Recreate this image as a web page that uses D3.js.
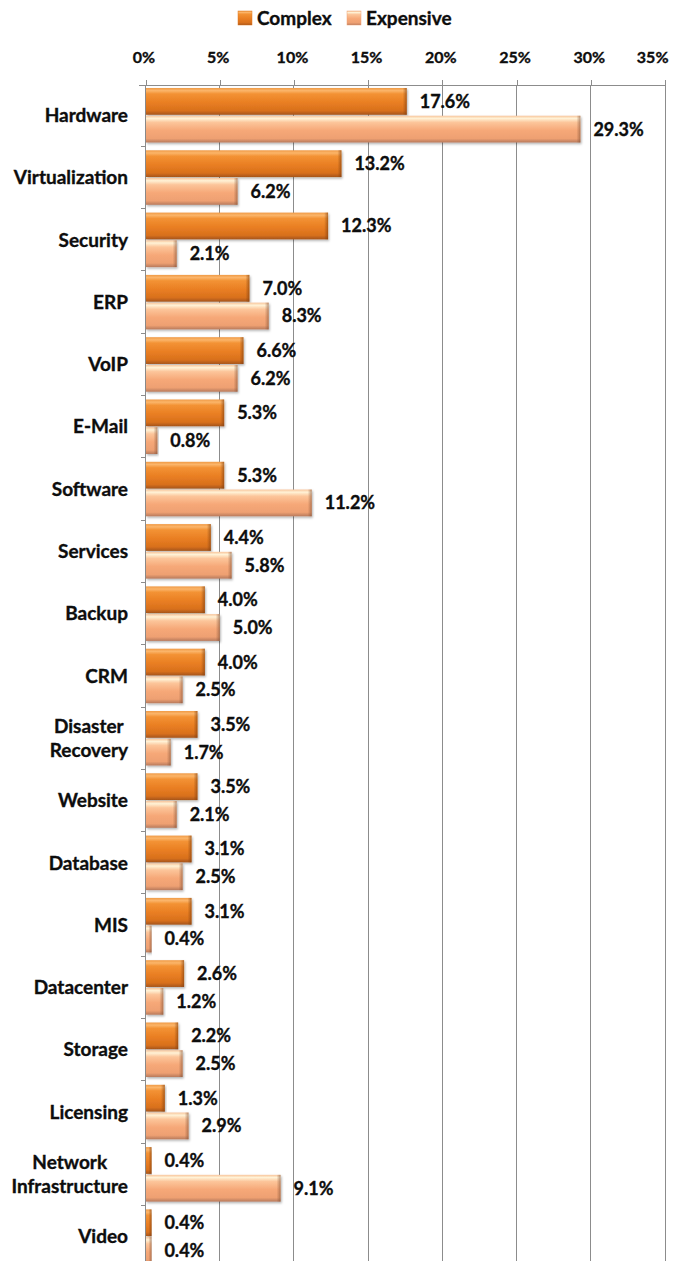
<!DOCTYPE html>
<html>
<head>
<meta charset="utf-8">
<script src="https://cdn.jsdelivr.net/npm/d3@7"></script>
<style>
  html, body { margin: 0; padding: 0; background: #ffffff; }
  svg { display: block; }
  text { font-family: Lato, "Open Sans", sans-serif; font-weight: 700; fill: #0d0d0d; stroke: #0d0d0d; stroke-width: 0.35px; }
</style>
</head>
<body>
<svg id="chart" width="682" height="1261"></svg>
<script>
// Categories, top to bottom
const categories = [
  "Hardware", "Virtualization", "Security", "ERP", "VoIP", "E-Mail",
  "Software", "Services", "Backup", "CRM", "Disaster Recovery", "Website",
  "Database", "MIS", "Datacenter", "Storage", "Licensing",
  "Network Infrastructure", "Video"
];

// Share of answers (%) per series
const complexValues = [
  17.6, 13.2, 12.3, 7.0, 6.6, 5.3, 5.3, 4.4, 4.0, 4.0,
  3.5, 3.5, 3.1, 3.1, 2.6, 2.2, 1.3, 0.4, 0.4
];
const expensiveValues = [
  29.3, 6.2, 2.1, 8.3, 6.2, 0.8, 11.2, 5.8, 5.0, 2.5,
  1.7, 2.1, 2.5, 0.4, 1.2, 2.5, 2.9, 9.1, 0.4
];

const seriesNames = ["Complex", "Expensive"];
const xTicks = [0, 5, 10, 15, 20, 25, 30, 35];

const series = [
  { name: seriesNames[0], values: complexValues, grad: "gradComplex", end: "endComplex", swatch: "#e07a22" },
  { name: seriesNames[1], values: expensiveValues, grad: "gradExpensive", end: "endExpensive", swatch: "#f0a276" }
];

const svg = d3.select("#chart");
const W = 682, H = 1261;
const plotLeft = 145.5, plotRight = 665, plotTop = 85;
const band = 62.3;

const x = d3.scaleLinear().domain([0, 35]).range([plotLeft, plotRight]);
const y = d3.scaleBand().domain(categories).range([plotTop - 1, plotTop - 1 + band * categories.length]).padding(0);
const sub = d3.scaleBand().domain(seriesNames).range([4, y.bandwidth() - 3.8]).paddingInner(0.035);

// Gradients for the bevelled bars
const defs = svg.append("defs");
function vGrad(id, stops) {
  const g = defs.append("linearGradient").attr("id", id)
    .attr("x1", 0).attr("y1", 0).attr("x2", 0).attr("y2", 1);
  stops.forEach(s => g.append("stop").attr("offset", s[0]).attr("stop-color", s[1]));
}
function hGrad(id, stops) {
  const g = defs.append("linearGradient").attr("id", id)
    .attr("x1", 0).attr("y1", 0).attr("x2", 1).attr("y2", 0);
  stops.forEach(s => g.append("stop").attr("offset", s[0]).attr("stop-color", s[1]).attr("stop-opacity", s[2]));
}
vGrad("gradComplex", [
  [0, "#f09a45"], [0.1, "#fbb56a"], [0.22, "#f39234"], [0.55, "#e97e22"],
  [0.85, "#d8701d"], [1, "#a55419"]
]);
vGrad("gradExpensive", [
  [0, "#f8c49a"], [0.1, "#fff2d6"], [0.25, "#fcc59a"], [0.55, "#f6a878"],
  [0.85, "#eea072"], [1, "#b87a5c"]
]);
hGrad("endComplex", [[0, "#8a4310", 0], [1, "#7a3a0c", 0.6]]);
hGrad("endExpensive", [[0, "#8a5438", 0], [1, "#7a4a30", 0.55]]);

const shadow = defs.append("filter").attr("id", "barShadow")
  .attr("x", "-5%").attr("y", "-20%").attr("width", "115%").attr("height", "160%");
shadow.append("feDropShadow").attr("dx", 1).attr("dy", 1.5).attr("stdDeviation", 1.2)
  .attr("flood-color", "#000").attr("flood-opacity", 0.3);

// Vertical gridlines
svg.append("g").selectAll("line").data(xTicks.slice(1)).join("line")
  .attr("x1", d => x(d)).attr("x2", d => x(d))
  .attr("y1", plotTop).attr("y2", H)
  .attr("stroke", "#8c8c8c").attr("stroke-width", 1).attr("shape-rendering", "crispEdges");

// Top value axis
const xAxis = svg.append("g").attr("transform", `translate(0,${plotTop})`)
  .call(d3.axisTop(x).tickValues(xTicks).tickSize(5).tickSizeOuter(0).tickFormat(d => d + "%"));
xAxis.select(".domain").attr("stroke", "#8c8c8c").attr("shape-rendering", "crispEdges")
  .attr("d", `M${plotLeft - 7},0H${plotRight}`);
xAxis.selectAll(".tick line").attr("stroke", "#8c8c8c").attr("shape-rendering", "crispEdges");
xAxis.attr("font-family", null).attr("font-size", null);
const lastTick = xTicks[xTicks.length - 1];
xAxis.selectAll(".tick text").attr("y", -28).attr("dy", "0.35em")
  .style("font-size", "16px").attr("fill", "#0d0d0d")
  .attr("x", d => d === lastTick ? 668 - x(d) : -2)
  .attr("text-anchor", d => d === lastTick ? "end" : "middle");

// Category axis line and ticks between categories
svg.append("line").attr("x1", plotLeft).attr("x2", plotLeft).attr("y1", plotTop).attr("y2", H)
  .attr("stroke", "#8c8c8c").attr("shape-rendering", "crispEdges");
svg.append("g").selectAll("line").data(categories.slice(1)).join("line")
  .attr("x1", plotLeft - 5).attr("x2", plotLeft)
  .attr("y1", d => y(d)).attr("y2", d => y(d))
  .attr("stroke", "#8c8c8c").attr("shape-rendering", "crispEdges");

// Category labels (two-word names wrap onto two centred lines)
const labelRight = 128;
const lineH = 24;
const catG = svg.append("g");
categories.forEach(c => {
  const words = c.split(" ");
  const cy = y(c) + y.bandwidth() / 2;
  const t = catG.append("text").style("font-size", "19px");
  if (words.length === 1) {
    t.attr("x", labelRight).attr("y", cy).attr("dy", "0.36em").attr("text-anchor", "end").text(c);
  } else {
    t.attr("text-anchor", "middle");
    const spans = words.map((w, i) => t.append("tspan").attr("y", cy + (i - (words.length - 1) / 2) * lineH)
      .attr("dy", "0.36em").text(w));
    const widest = d3.max(spans, s => s.node().getComputedTextLength());
    spans.forEach(s => s.attr("x", labelRight - widest / 2));
  }
});

// Bars
const barsG = svg.append("g");
const valG = svg.append("g");
series.forEach(s => {
  const g = barsG.append("g");
  categories.forEach((c, i) => {
    const v = s.values[i];
    const by = y(c) + sub(s.name);
    const bw = x(v) - x(0);
    const bh = sub.bandwidth();
    const bar = g.append("g").attr("filter", "url(#barShadow)");
    bar.append("rect").attr("x", x(0) + 0.5).attr("y", by).attr("width", Math.max(bw - 0.5, 0)).attr("height", bh)
      .attr("fill", `url(#${s.grad})`);
    const ew = Math.min(4, bw * 0.5);
    bar.append("rect").attr("x", x(v) - ew).attr("y", by).attr("width", ew).attr("height", bh)
      .attr("fill", `url(#${s.end})`);
    // value label
    valG.append("text").attr("x", x(v) + 13).attr("y", by + bh / 2).attr("dy", "0.36em")
      .style("font-size", "18px").text(v.toFixed(1) + "%");
  });
});

// Legend
const legend = svg.append("g");
const legendItems = [
  { s: series[0], x: 238 },
  { s: series[1], x: 347 }
];
legendItems.forEach(it => {
  legend.append("rect").attr("x", it.x).attr("y", 11).attr("width", 14).attr("height", 14)
    .attr("fill", `url(#${it.s.grad})`).attr("stroke", it.s.swatch).attr("stroke-width", 0.5);
  legend.append("text").attr("x", it.x + 19).attr("y", 18).attr("dy", "0.36em")
    .style("font-size", "19px").text(it.s.name);
});
</script>
</body>
</html>
